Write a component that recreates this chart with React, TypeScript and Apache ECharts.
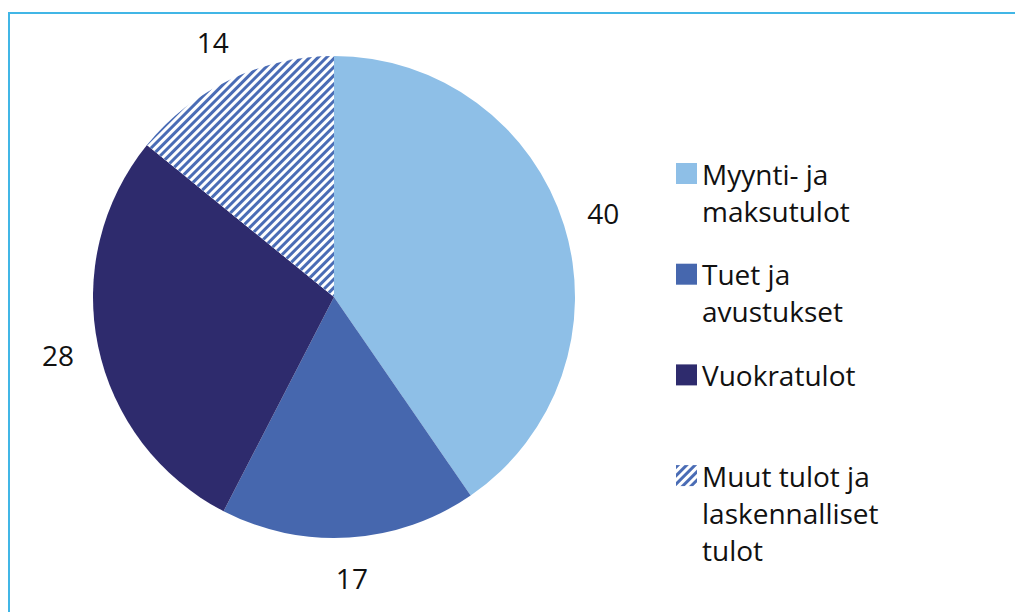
import React, { useEffect, useRef } from "react";
import * as echarts from "echarts";

const categories = [
  "Myynti- ja maksutulot",
  "Tuet ja avustukset",
  "Vuokratulot",
  "Muut tulot ja laskennalliset tulot",
];
const legendLines = [
  ["Myynti- ja", "maksutulot"],
  ["Tuet ja", "avustukset"],
  ["Vuokratulot"],
  ["Muut tulot ja", "laskennalliset", "tulot"],
];
const values = [40, 17, 28, 14];
const colors = ["#8ebfe7", "#4667ae", "#2e2b6d", "#ffffff"];
const hatchColor = "#4a6cb5";

const FONT = "'Open Sans', 'Noto Sans', sans-serif";

export default function App() {
  const ref = useRef<HTMLDivElement>(null);

  useEffect(() => {
    if (!ref.current) return;
    const chart = echarts.init(ref.current, null, { renderer: "svg" });

    const cx = 334;
    const cy = 297;
    const r = 241;
    const lh = 37;
    const iconSize = 21;

    const pieData = categories.map((name, i) => ({
      name,
      value: values[i],
      itemStyle:
        i === 3
          ? {
              color: colors[i],
              decal: {
                symbol: "rect",
                symbolSize: 1,
                dashArrayX: [1, 0],
                dashArrayY: [3, 3],
                rotation: -Math.PI / 4,
                color: hatchColor,
              },
            }
          : { color: colors[i] },
    }));

    const labelData = categories.map((name, i) => ({ name, value: values[i] }));

    const legends = categories.map((name, i) => {
      const n = legendLines[i].length;
      const iconTop = 163 + i * 100.7;
      // blank lines are prepended so the first real line sits beside the icon
      const boxTop = iconSize / 2 - ((2 * n - 1) * lh) / 2;
      return {
        show: true,
        data: [name],
        left: 676,
        top: iconTop + boxTop,
        padding: 0,
        orient: "vertical",
        itemWidth: iconSize,
        itemHeight: iconSize,
        itemGap: 0,
        icon: "rect",
        selectedMode: false,
        formatter: () =>
          "\n".repeat(n - 1) + legendLines[i].join("\n"),
        textStyle: {
          fontFamily: FONT,
          fontSize: 28,
          color: "#111",
          lineHeight: lh,
        },
      };
    });

    chart.setOption({
      animation: false,
      backgroundColor: "#ffffff",
      legend: legends,
      graphic: [
        {
          type: "rect",
          shape: { x: 8, y: 12, width: 1007, height: 2 },
          style: { fill: "#41b6e6" },
          silent: true,
        },
        {
          type: "rect",
          shape: { x: 8, y: 12, width: 2, height: 600 },
          style: { fill: "#41b6e6" },
          silent: true,
        },
      ],
      series: [
        {
          type: "pie",
          center: [cx, cy],
          radius: [0, r],
          startAngle: 90,
          clockwise: true,
          label: { show: false },
          labelLine: { show: false },
          emphasis: { disabled: true },
          silent: true,
          data: pieData,
        },
        {
          type: "pie",
          center: [cx, cy],
          radius: [r, r + 76],
          startAngle: 90,
          clockwise: true,
          itemStyle: { color: "rgba(0,0,0,0)" },
          label: {
            show: true,
            position: "inside",
            formatter: "{c}",
            fontFamily: FONT,
            fontSize: 28,
            color: "#111",
          },
          labelLine: { show: false },
          emphasis: { disabled: true },
          silent: true,
          data: labelData,
        },
      ],
    });

    return () => chart.dispose();
  }, []);

  return (
    <div
      ref={ref}
      style={{ position: "fixed", left: 0, top: 0, width: 1015, height: 612 }}
    />
  );
}
